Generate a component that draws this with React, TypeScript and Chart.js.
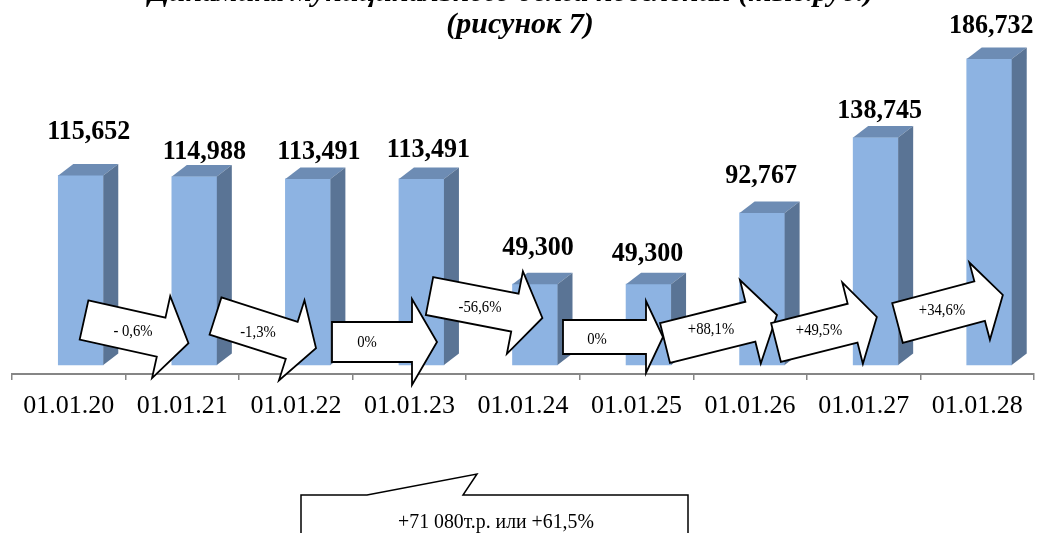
import React, { useEffect, useRef } from 'react';
import { Chart, registerables } from 'chart.js';

Chart.register(...registerables);

// ---------- data ----------
const titleLines = ['Динамика муниципального долга поселения (тыс.руб.)', '(рисунок 7)'];
const categories = ['01.01.20', '01.01.21', '01.01.22', '01.01.23', '01.01.24', '01.01.25', '01.01.26', '01.01.27', '01.01.28'];
const values = [115652, 114988, 113491, 113491, 49300, 49300, 92767, 138745, 186732];
const changeLabels = ['- 0,6%', '-1,3%', '0%', '-56,6%', '0%', '+88,1%', '+49,5%', '+34,6%'];
const totalChangeLabel = '+71 080т.р. или +61,5%';

// ---------- style ----------
const W = 1037;
const H = 533;
const SERIF = "'Times New Roman', 'Liberation Serif', serif";
const FRONT = '#8DB3E2';
const TOP = '#6D8CB4';
const SIDE = '#5A7495';
const BAR_SHIFT = 12;
const DEPTH_X = 15;
const DEPTH_Y = 11.5;
// value label offsets relative to bar (dx from category centre, dy from top of depth face)
const labelOffsets: [number, number][] = [
  [20, -32], [22, -13], [23, -15.5], [19, -17.5], [15, -25], [11, -19], [11, -26], [16, -15], [14, -22],
];
// arrow shapes: [x, y, angleDeg, length, bodyHalf, headBase, headHalf, textDx, textDy]
const arrowGeom: number[][] = [
  [84, 320, 12.5, 107, 20, 79, 42, 49, 12],
  [215.5, 316, 17.7, 105.5, 19.5, 80, 42, 42.5, 17],
  [332, 342, 0, 105, 20, 80, 43, 35, 1],
  [429.5, 296, 11, 115, 19.3, 87, 42, 50.5, 12],
  [563, 337, 0, 100, 17, 83, 36, 34, 3],
  [665, 343, -14, 115.4, 20.6, 88, 43, 46, -13],
  [776, 342.5, -14.2, 104, 20, 79, 42, 43, -11.5],
  [897.5, 323, -14.9, 109, 20.5, 85, 40, 44.5, -12],
];

function drawText(ctx: CanvasRenderingContext2D, text: string, x: number, y: number, font: string, sx = 1, baseline: CanvasTextBaseline = 'middle') {
  ctx.save();
  ctx.translate(x, y);
  ctx.scale(sx, 1);
  ctx.font = font;
  ctx.textAlign = 'center';
  ctx.textBaseline = baseline;
  ctx.fillStyle = '#000';
  ctx.fillText(text, 0, 0);
  ctx.restore();
}

function drawArrow(ctx: CanvasRenderingContext2D, g: number[], label: string) {
  const [x, y, ang, L, bh, hb, hh, tdx, tdy] = g;
  ctx.save();
  ctx.translate(x, y);
  ctx.rotate((ang * Math.PI) / 180);
  ctx.beginPath();
  ctx.moveTo(0, -bh);
  ctx.lineTo(hb, -bh);
  ctx.lineTo(hb, -hh);
  ctx.lineTo(L, 0);
  ctx.lineTo(hb, hh);
  ctx.lineTo(hb, bh);
  ctx.lineTo(0, bh);
  ctx.closePath();
  ctx.fillStyle = '#fff';
  ctx.fill();
  ctx.lineWidth = 1.8;
  ctx.lineJoin = 'miter';
  ctx.strokeStyle = '#000';
  ctx.stroke();
  ctx.restore();
  drawText(ctx, label, x + tdx, y + tdy, `16px ${SERIF}`, 0.92);
}

const threeDPlugin = {
  id: 'threeD',
  beforeDatasetsDraw(chart: any) {
    chart.ctx.save();
    chart.ctx.translate(BAR_SHIFT, 0);
  },
  afterDatasetsDraw(chart: any) {
    const ctx: CanvasRenderingContext2D = chart.ctx;
    ctx.restore();
    const meta = chart.getDatasetMeta(0);
    meta.data.forEach((bar: any) => {
      const { x, y, base, width } = bar.getProps(['x', 'y', 'base', 'width'], true);
      const left = x - width / 2 + BAR_SHIFT;
      const right = x + width / 2 + BAR_SHIFT;
      // top face
      ctx.beginPath();
      ctx.moveTo(left, y);
      ctx.lineTo(left + DEPTH_X, y - DEPTH_Y);
      ctx.lineTo(right + DEPTH_X, y - DEPTH_Y);
      ctx.lineTo(right, y);
      ctx.closePath();
      ctx.fillStyle = TOP;
      ctx.fill();
      // side face
      ctx.beginPath();
      ctx.moveTo(right, y);
      ctx.lineTo(right + DEPTH_X, y - DEPTH_Y);
      ctx.lineTo(right + DEPTH_X, base - DEPTH_Y);
      ctx.lineTo(right, base);
      ctx.closePath();
      ctx.fillStyle = SIDE;
      ctx.fill();
    });
    // value labels
    meta.data.forEach((bar: any, i: number) => {
      const { x, y } = bar.getProps(['x', 'y'], true);
      const [dx, dy] = labelOffsets[i];
      drawText(ctx, values[i].toLocaleString('en-US'), x + dx, y - DEPTH_Y + dy, `bold 28px ${SERIF}`, 0.93);
    });
    // change arrows
    arrowGeom.forEach((g, i) => drawArrow(ctx, g, changeLabels[i]));
    // callout
    ctx.save();
    ctx.beginPath();
    ctx.moveTo(301, H + 10);
    ctx.lineTo(301, 495);
    ctx.lineTo(367, 495);
    ctx.lineTo(477, 474);
    ctx.lineTo(463, 495);
    ctx.lineTo(688, 495);
    ctx.lineTo(688, H + 10);
    ctx.fillStyle = '#fff';
    ctx.fill();
    ctx.lineWidth = 1.5;
    ctx.strokeStyle = '#000';
    ctx.stroke();
    ctx.restore();
    drawText(ctx, totalChangeLabel, 496, 522, `22px ${SERIF}`, 0.9);
  },
  afterDraw(chart: any) {
    const ctx: CanvasRenderingContext2D = chart.ctx;
    drawText(ctx, titleLines[0], 511, 1, `italic bold 30px ${SERIF}`, 1, 'alphabetic');
    drawText(ctx, titleLines[1], 520, 33, `italic bold 30px ${SERIF}`, 1, 'alphabetic');
  },
};

export default function App() {
  const ref = useRef<HTMLCanvasElement>(null);
  useEffect(() => {
    if (!ref.current) return;
    const chart = new Chart(ref.current, {
      type: 'bar',
      data: {
        labels: categories,
        datasets: [
          {
            data: values,
            backgroundColor: FRONT,
            borderWidth: 0,
            barThickness: 45,
          },
        ],
      },
      options: {
        animation: false,
        responsive: false,
        devicePixelRatio: 1,
        layout: { padding: { left: 12, right: 3, top: 20, bottom: 0 } },
        plugins: {
          legend: { display: false },
          title: { display: false },
          tooltip: { enabled: false },
        },
        scales: {
          x: {
            grid: {
              display: true,
              drawOnChartArea: false,
              drawTicks: true,
              tickLength: 6,
              color: '#868686',
              lineWidth: 1.5,
              offset: true,
            },
            border: { display: true, color: '#868686', width: 2 },
            ticks: {
              color: '#000',
              font: { family: SERIF, size: 26 },
              padding: 11,
              maxRotation: 0,
              autoSkip: false,
            },
            afterFit: (s: any) => {
              s.height = H - 374;
            },
          },
          y: { display: false, min: -5490, max: 210450 },
        },
      },
      plugins: [threeDPlugin],
    });
    return () => chart.destroy();
  }, []);
  return (
    <div style={{ position: 'fixed', left: 0, top: 0, width: W, height: H, background: '#fff' }}>
      <canvas ref={ref} width={W} height={H} style={{ display: 'block', width: W, height: H }} />
    </div>
  );
}
